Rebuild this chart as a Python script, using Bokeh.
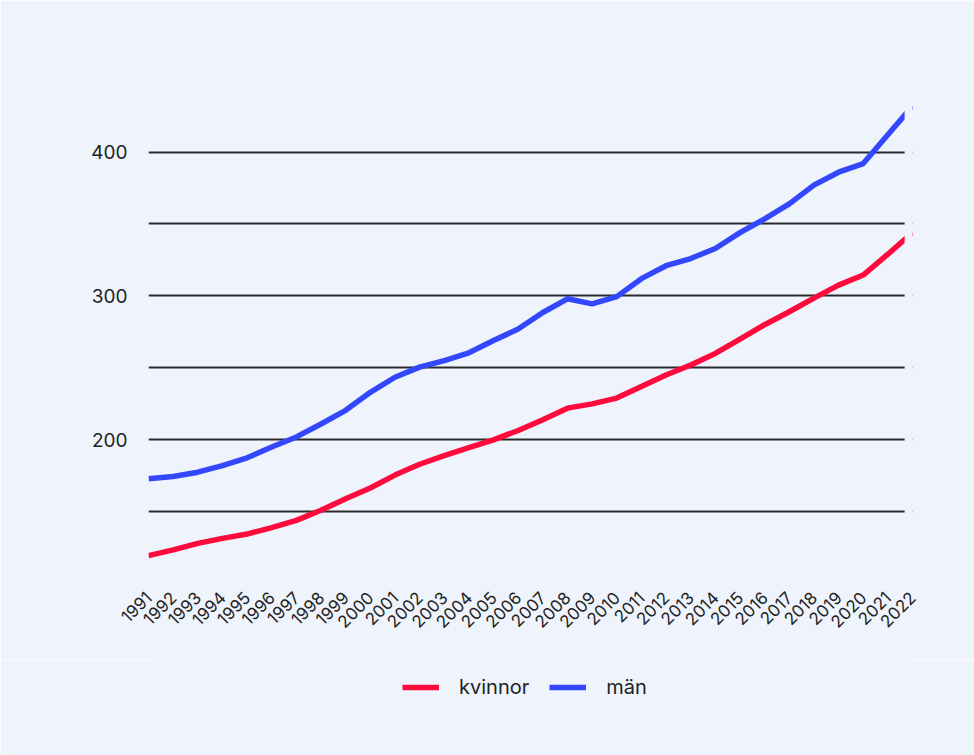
import math
from bokeh.plotting import figure
from bokeh.layouts import column
from bokeh.models import (ColumnDataSource, FixedTicker, Range1d, Legend, LegendItem,
                          BoxAnnotation)
from bokeh.embed import file_html
from bokeh.resources import INLINE

years = list(range(1991, 2023))
kvinnor = [119.5, 123.5, 128, 131.5, 134.5, 139, 144, 151, 159, 166.5,
           175.5, 183, 189, 194.5, 200, 206.5, 214, 222, 225, 229,
           237, 245, 252, 260, 270, 280, 289, 298.5, 307.5, 314.5,
           329, 344]
man = [173, 174.5, 177.5, 182, 187.5, 195, 202, 211, 220.5, 233,
       243.5, 250.5, 255, 260.5, 269, 277, 288.5, 298, 294.5, 299.5,
       312, 321, 326, 333, 344, 353.5, 364, 377, 386, 392,
       412, 432]
series_names = ["kvinnor", "män"]
y_label_ticks = [200, 300, 400]
y_grid_ticks = [150, 200, 250, 300, 350, 400]

BG = "#eff4fc"
RED = "#ff0a3c"
BLUE = "#3347ff"
TEXT = "#222222"
FONT = "Inter"
x_visible_end = 2021.68

src = ColumnDataSource(dict(year=years, kvinnor=kvinnor, man=man))

p = figure(width=974, height=660,
           min_border_left=148, min_border_right=62,
           min_border_top=94, min_border_bottom=84,
           x_range=Range1d(1991, 2022), y_range=Range1d(105, 440),
           output_backend="svg", toolbar_location=None)

p.background_fill_color = BG
p.border_fill_color = BG
p.outline_line_color = None

r1 = p.line("year", "kvinnor", source=src, line_color=RED, line_width=5.5)
r2 = p.line("year", "man", source=src, line_color=BLUE, line_width=5.5)

# clip the end of the plotting area like the original
p.add_layout(BoxAnnotation(left=x_visible_end, fill_color=BG, fill_alpha=1,
                           line_alpha=0))

# axes
p.xaxis.ticker = FixedTicker(ticks=years)
p.xaxis.major_label_orientation = math.pi / 4
p.xaxis.axis_line_color = None
p.xaxis.major_tick_line_color = None
p.xaxis.minor_tick_line_color = None
p.xaxis.major_label_standoff = 12
p.xaxis.major_label_text_font = FONT
p.xaxis.major_label_text_font_size = "17px"
p.xaxis.major_label_text_color = TEXT

p.yaxis.ticker = FixedTicker(ticks=y_label_ticks)
p.yaxis.axis_line_color = None
p.yaxis.major_tick_line_color = None
p.yaxis.minor_tick_line_color = None
p.yaxis.major_label_standoff = 15
p.yaxis.major_label_text_font = FONT
p.yaxis.major_label_text_font_size = "19px"
p.yaxis.major_label_text_color = TEXT

p.xgrid.grid_line_color = None
p.ygrid.ticker = FixedTicker(ticks=y_grid_ticks)
p.ygrid.grid_line_color = "#2b2b2b"
p.ygrid.grid_line_width = 2

# legend strip below the chart
lg = figure(width=974, height=95, min_border=0,
            x_range=Range1d(0, 1), y_range=Range1d(0, 1),
            output_backend="svg", toolbar_location=None)
lg.background_fill_color = BG
lg.border_fill_color = BG
lg.outline_line_color = None
lg.axis.visible = False
lg.grid.visible = False
l1 = lg.line("year", "kvinnor", source=src, line_color=RED, line_width=5.5)
l2 = lg.line("year", "man", source=src, line_color=BLUE, line_width=5.5)

legend = Legend(items=[LegendItem(label=series_names[0], renderers=[l1]),
                       LegendItem(label=series_names[1], renderers=[l2])],
                orientation="horizontal", location=(254, 56),
                glyph_width=37, glyph_height=20, label_standoff=20, spacing=20,
                label_text_font=FONT, label_text_font_size="20px",
                label_text_color=TEXT, background_fill_alpha=0,
                border_line_color=None, margin=0, padding=8)
lg.add_layout(legend, "center")

layout = column(p, lg, spacing=0)
open("out.html", "w").write(file_html(layout, INLINE))
